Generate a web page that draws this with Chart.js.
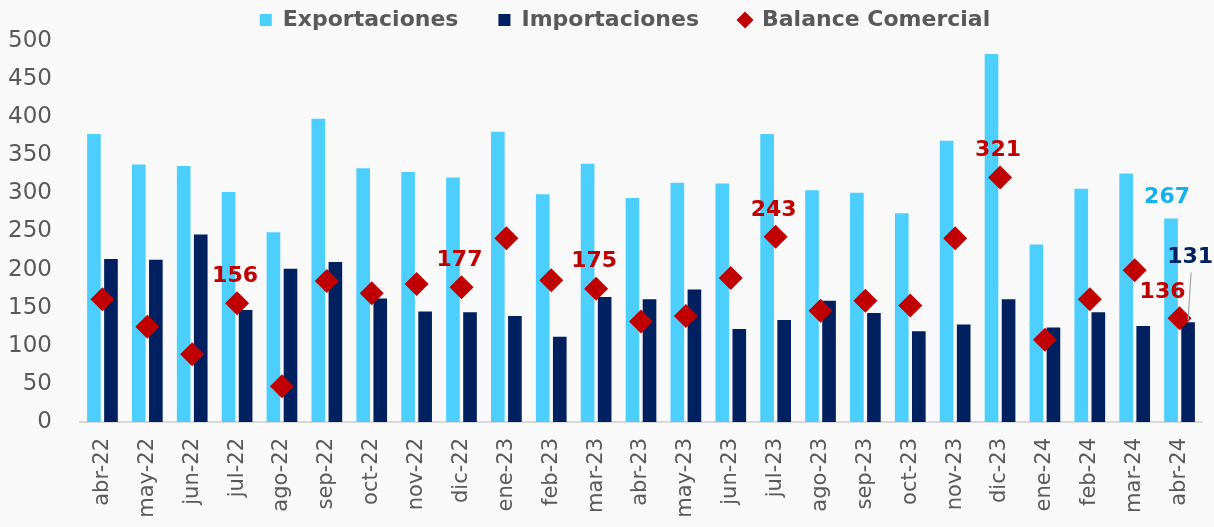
<!DOCTYPE html>
<html>
<head>
<meta charset="utf-8">
<script src="https://cdn.jsdelivr.net/npm/chart.js@4.4.1/dist/chart.umd.min.js"></script>
<style>
  html, body { margin: 0; padding: 0; background: #F9F9F9; }
  #wrap { width: 1214px; height: 527px; }
</style>
</head>
<body>
<div id="wrap"><canvas id="myChart" width="1214" height="527"></canvas></div>
<script>
(function () {
    "use strict";

    const months = ['abr-22', 'may-22', 'jun-22', 'jul-22', 'ago-22', 'sep-22', 'oct-22', 'nov-22', 'dic-22',
        'ene-23', 'feb-23', 'mar-23', 'abr-23', 'may-23', 'jun-23', 'jul-23', 'ago-23', 'sep-23', 'oct-23',
        'nov-23', 'dic-23', 'ene-24', 'feb-24', 'mar-24', 'abr-24'];
    const exportaciones = [378, 338, 336, 302, 249, 398, 333, 328, 321, 381, 299, 339, 294, 314, 313, 378,
        304, 301, 274, 369, 483, 233, 306, 326, 267];
    const importaciones = [214, 213, 246, 147, 201, 210, 162, 145, 144, 139, 112, 164, 161, 174, 122, 134,
        159, 143, 119, 128, 161, 124, 144, 126, 131];
    const balance = [161, 125, 89, 156, 47, 185, 169, 181, 177, 241, 186, 175, 132, 139, 189, 243,
        146, 159, 153, 241, 321, 108, 161, 199, 136];
    const yTicks = [0, 50, 100, 150, 200, 250, 300, 350, 400, 450, 500];

    // which points get a value label
    const balanceLabelIdx = [3, 8, 11, 15, 20, 24];
    const lastIdx = months.length - 1;

    const FONT = "'DejaVu Sans', sans-serif";

    const background = {
        id: 'background',
        beforeDraw(chart) {
            const ctx = chart.ctx;
            ctx.save();
            ctx.fillStyle = '#F9F9F9';
            ctx.fillRect(0, 0, chart.width, chart.height);
            ctx.restore();
        }
    };

    // nudge the legend a bit right, like the original
    const legendShift = {
        id: 'legendShift',
        afterLayout(chart) {
            chart.legend.left += 20;
            chart.legend.right += 20;
        }
    };

    const valueLabels = {
        id: 'valueLabels',
        afterDatasetsDraw(chart) {
            const ctx = chart.ctx;
            const expMeta = chart.getDatasetMeta(0);
            const impMeta = chart.getDatasetMeta(1);
            const balMeta = chart.getDatasetMeta(2);
            ctx.save();
            ctx.font = 'bold 22px ' + FONT;
            ctx.textAlign = 'center';
            ctx.textBaseline = 'middle';

            ctx.fillStyle = '#C00000';
            balanceLabelIdx.forEach(i => {
                const pt = balMeta.data[i];
                if (i === lastIdx) {
                    ctx.fillText(String(balance[i]), pt.x - 17, pt.y - 26);
                } else {
                    ctx.fillText(String(balance[i]), pt.x - 2, pt.y - 27);
                }
            });

            // last export bar
            const eb = expMeta.data[lastIdx];
            ctx.fillStyle = '#14B1EE';
            ctx.fillText(String(exportaciones[lastIdx]), eb.x - 4, eb.y - 21);

            // last import bar, with leader line
            const ib = impMeta.data[lastIdx];
            ctx.strokeStyle = '#A6A6A6';
            ctx.lineWidth = 1.2;
            ctx.beginPath();
            ctx.moveTo(ib.x + 3, ib.y - 50);
            ctx.lineTo(ib.x, ib.y - 2);
            ctx.stroke();
            ctx.fillStyle = '#002060';
            ctx.fillText(String(importaciones[lastIdx]), ib.x + 2, ib.y - 65);
            ctx.restore();
        }
    };

    function initChart() {
        const ctx = document.getElementById('myChart').getContext('2d');
        new Chart(ctx, {
            type: 'bar',
            data: {
                labels: months,
                datasets: [
                    {
                        label: 'Exportaciones',
                        data: exportaciones,
                        backgroundColor: '#4DCFFE',
                        pointStyle: 'rect',
                        categoryPercentage: 0.76,
                        barPercentage: 0.8,
                        order: 2
                    },
                    {
                        label: 'Importaciones',
                        data: importaciones,
                        backgroundColor: '#002060',
                        pointStyle: 'rect',
                        categoryPercentage: 0.76,
                        barPercentage: 0.8,
                        order: 2
                    },
                    {
                        type: 'line',
                        label: 'Balance Comercial',
                        data: balance,
                        showLine: false,
                        pointStyle: 'rectRot',
                        pointRadius: 12,
                        pointHoverRadius: 12,
                        backgroundColor: '#C00000',
                        borderColor: '#C00000',
                        borderWidth: 0,
                        order: 0
                    }
                ]
            },
            options: {
                responsive: false,
                animation: false,
                layout: { padding: { left: 8, right: 12, top: -31, bottom: 0 } },
                plugins: {
                    legend: {
                        position: 'top',
                        align: 'center',
                        labels: {
                            usePointStyle: true,
                            boxWidth: 12,
                            boxHeight: 12,
                            padding: 40,
                            color: '#595959',
                            font: { family: FONT, size: 22, weight: 'bold' },
                            sort: (a, b) => a.datasetIndex - b.datasetIndex
                        }
                    },
                    tooltip: { enabled: false }
                },
                scales: {
                    x: {
                        grid: { display: false },
                        border: { display: true, color: '#D9D9D9', width: 2 },
                        ticks: {
                            minRotation: 90,
                            maxRotation: 90,
                            padding: 8,
                            color: '#595959',
                            font: { family: FONT, size: 21 }
                        },
                        afterFit(scale) { scale.height = 105; }
                    },
                    y: {
                        min: 0,
                        max: 500,
                        afterBuildTicks(scale) { scale.ticks = yTicks.map(v => ({ value: v })); },
                        grid: { display: false },
                        border: { display: false },
                        ticks: {
                            padding: 20,
                            color: '#595959',
                            font: { family: FONT, size: 23 }
                        },
                        afterFit(scale) { scale.width = 72; }
                    }
                }
            },
            plugins: [background, legendShift, valueLabels]
        });
    }

    document.addEventListener('DOMContentLoaded', initChart);
})();
</script>
</body>
</html>
